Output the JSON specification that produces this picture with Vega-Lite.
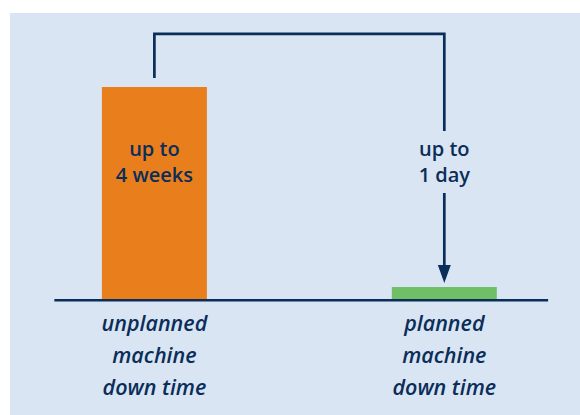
{
  "$schema": "https://vega.github.io/schema/vega-lite/v6.json",
  "width": 570,
  "height": 402,
  "autosize": {"type": "none"},
  "padding": {"left": 10, "top": 13, "right": 0, "bottom": 0},
  "background": "#ffffff",
  "view": {"fill": "#d9e5f2", "stroke": null},
  "datasets": {
    "bars": [
      {"pos": 1, "height": 21.35, "kind": "unplanned"},
      {"pos": 2, "height": 1.32, "kind": "planned"}
    ],
    "connector": [
      {"pos": 1, "h": 22.25, "order": 1},
      {"pos": 1, "h": 26.65, "order": 2},
      {"pos": 2, "h": 26.65, "order": 3},
      {"pos": 2, "h": 16.94, "order": 4}
    ],
    "arrow": [{"pos": 2, "from": 10.73, "to": 2.5, "tip": 2.62}],
    "baseline": [{"start": 0.655, "end": 2.358, "h": 0}],
    "inner": [
      {"pos": 1, "h": 14.44, "label": "up to\n4 weeks"},
      {"pos": 2, "h": 14.44, "label": "up to\n1 day"}
    ],
    "below": [
      {"pos": 1, "h": -3.1, "label": "unplanned\nmachine\ndown time"},
      {"pos": 2, "h": -3.1, "label": "planned\nmachine\ndown time"}
    ]
  },
  "layer": [
    {
      "data": {"name": "bars"},
      "mark": {"type": "bar", "width": 105},
      "encoding": {
        "x": {"field": "pos", "type": "quantitative", "scale": {"domain": [0.502, 2.468], "nice": false, "zero": false, "padding": 0}, "axis": null},
        "y": {"field": "height", "type": "quantitative", "scale": {"domain": [-11.5, 28.75], "nice": false, "zero": false, "padding": 0}, "axis": null},
        "color": {"field": "kind", "type": "nominal", "scale": {"domain": ["unplanned", "planned"], "range": ["#e97e1d", "#6ebf66"]}, "legend": null}
      }
    },
    {
      "data": {"name": "baseline"},
      "mark": {"type": "rule", "color": "#0b2d5a", "strokeWidth": 2.5},
      "encoding": {
        "x": {"field": "start", "type": "quantitative"},
        "x2": {"field": "end"},
        "y": {"field": "h", "type": "quantitative"}
      }
    },
    {
      "data": {"name": "connector"},
      "mark": {"type": "line", "color": "#0b2d5a", "strokeWidth": 2.7, "strokeJoin": "miter", "strokeCap": "butt"},
      "encoding": {
        "x": {"field": "pos", "type": "quantitative"},
        "y": {"field": "h", "type": "quantitative"},
        "order": {"field": "order"}
      }
    },
    {
      "data": {"name": "arrow"},
      "mark": {"type": "rule", "color": "#0b2d5a", "strokeWidth": 2.7},
      "encoding": {
        "x": {"field": "pos", "type": "quantitative"},
        "y": {"field": "from", "type": "quantitative"},
        "y2": {"field": "to"}
      }
    },
    {
      "data": {"name": "arrow"},
      "mark": {"type": "point", "shape": "M-0.72,-1L0.72,-1L0,1Z", "size": 324, "filled": true, "color": "#0b2d5a", "opacity": 1},
      "encoding": {
        "x": {"field": "pos", "type": "quantitative"},
        "y": {"field": "tip", "type": "quantitative"}
      }
    },
    {
      "data": {"name": "inner"},
      "mark": {"type": "text", "lineBreak": "\n", "lineHeight": 26, "font": "Open Sans", "fontWeight": 600, "fontSize": 20, "color": "#0b2d5a", "align": "center", "baseline": "alphabetic"},
      "encoding": {
        "x": {"field": "pos", "type": "quantitative"},
        "y": {"field": "h", "type": "quantitative"},
        "text": {"field": "label"}
      }
    },
    {
      "data": {"name": "below"},
      "mark": {"type": "text", "lineBreak": "\n", "lineHeight": 32, "font": "Open Sans", "fontWeight": 600, "fontStyle": "italic", "fontSize": 21.5, "color": "#0b2d5a", "align": "center", "baseline": "alphabetic"},
      "encoding": {
        "x": {"field": "pos", "type": "quantitative"},
        "y": {"field": "h", "type": "quantitative"},
        "text": {"field": "label"}
      }
    }
  ]
}
